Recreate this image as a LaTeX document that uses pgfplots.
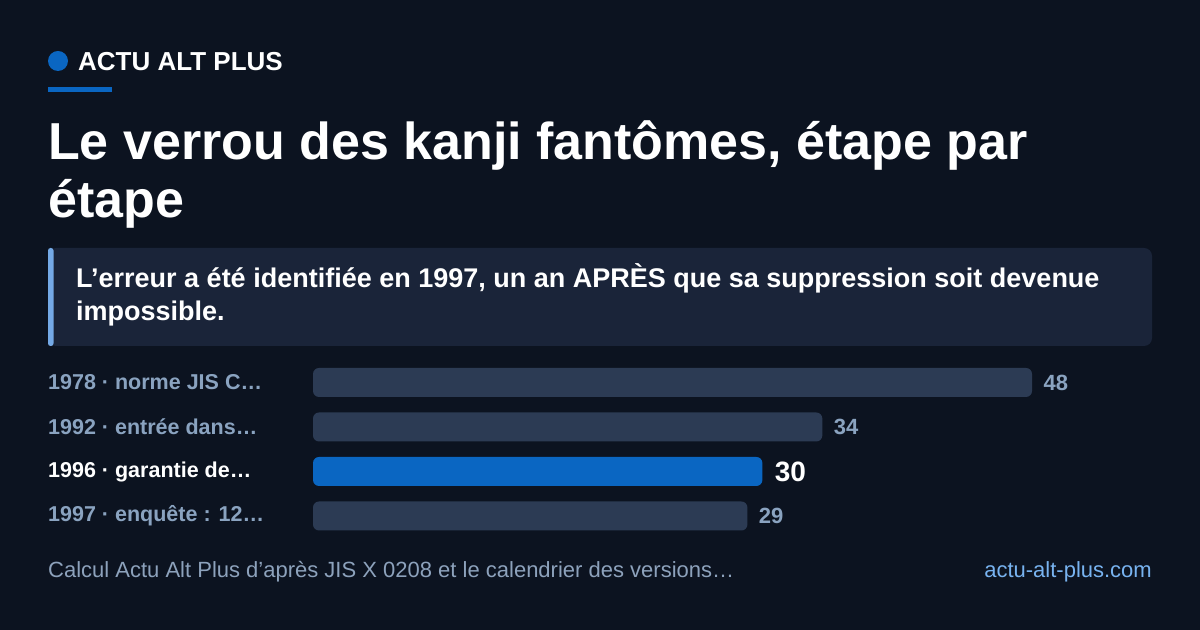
\documentclass[border=0pt]{standalone}
\usepackage{fontspec}
\setmainfont{Liberation Sans}
\usepackage{pgfplots}
\pgfplotsset{compat=1.18}
\definecolor{bg}{HTML}{0C1320}
\definecolor{accent}{HTML}{0A66C2}
\definecolor{bargrey}{HTML}{2C3B54}
\definecolor{boxbg}{HTML}{1A2439}
\definecolor{leftbar}{HTML}{74A9E6}
\definecolor{lab}{HTML}{8AA3C0}
\definecolor{foot}{HTML}{8DA2BC}
\definecolor{link}{HTML}{78B3F0}
\begin{document}
\begin{tikzpicture}[x=1bp,y=1bp]
\fill[bg] (0,0) rectangle (1200,630);
% header
\fill[accent] (58,569) circle (10);
\node[anchor=base west, inner sep=0, text=white, font=\bfseries\fontsize{26bp}{30bp}\selectfont] at (78,559) {ACTU ALT PLUS};
\fill[accent] (48,538) rectangle (112,543);
% title
\node[anchor=base west, inner sep=0, text=white, font=\bfseries\fontsize{52bp}{60bp}\selectfont] at (48,470) {Le verrou des kanji fantômes, étape par};
\node[anchor=base west, inner sep=0, text=white, font=\bfseries\fontsize{52bp}{60bp}\selectfont] at (48,412) {étape};
% subtitle box
\fill[boxbg, rounded corners=8bp] (48,284) rectangle (1152,382);
\fill[leftbar, rounded corners=2.5bp] (48,284) rectangle (53.5,382);
\node[anchor=base west, inner sep=0, text=white, font=\bfseries\fontsize{27bp}{32bp}\selectfont] at (76,342) {L’erreur a été identifiée en 1997, un an APRÈS que sa suppression soit devenue};
\node[anchor=base west, inner sep=0, text=white, font=\bfseries\fontsize{27bp}{32bp}\selectfont] at (76,309) {impossible.};
% chart
\begin{axis}[
  at={(313bp,269.75bp)}, anchor=north west,
  scale only axis, width=719bp, height=178bp,
  xmin=0, xmax=48, ymin=-0.5, ymax=3.5, y dir=reverse,
  axis line style={draw=none}, major tick length=0pt,
  xtick=\empty, ytick={0,1,2,3},
  yticklabels={{\color{lab}1978 · norme JIS C…},{\color{lab}1992 · entrée dans…},{\color{white}1996 · garantie de…},{\color{lab}1997 · enquête : 12…}},
  yticklabel style={anchor=west, xshift=-265bp, inner sep=0pt, font=\bfseries\fontsize{21.5bp}{24bp}\selectfont},
  /pgf/number format/assume math mode=true,
  clip=false,
]
\addplot[xbar, bar width=29bp, bar shift=0pt, fill=bargrey, draw=none, rounded corners=6bp,
  point meta=x, nodes near coords,
  nodes near coords style={anchor=west, xshift=8bp, text=lab, font=\bfseries\fontsize{22bp}{24bp}\selectfont}]
  coordinates {(48,0) (34,1) (29,3)};
\addplot[xbar, bar width=29bp, bar shift=0pt, fill=accent, draw=none, rounded corners=6bp,
  point meta=x, nodes near coords,
  nodes near coords style={anchor=west, xshift=9bp, text=white, font=\bfseries\fontsize{28bp}{30bp}\selectfont}]
  coordinates {(30,2)};
\end{axis}
% footer
\node[anchor=base west, inner sep=0, text=foot, font=\fontsize{22bp}{26bp}\selectfont] at (48,52) {Calcul Actu Alt Plus d’après JIS X 0208 et le calendrier des versions…};
\node[anchor=base east, inner sep=0, text=link, font=\fontsize{22bp}{26bp}\selectfont] at (1152,52) {actu-alt-plus.com};
\end{tikzpicture}
\end{document}
